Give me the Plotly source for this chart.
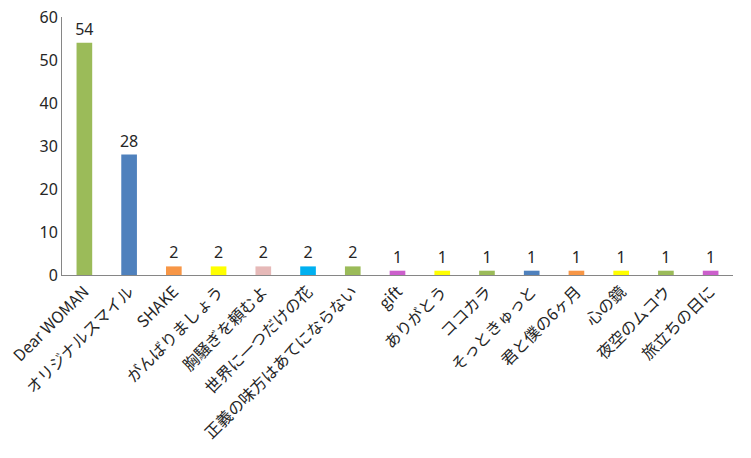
import plotly.graph_objects as go

# Dados
musicas = ['Dear WOMAN', 'オリジナルスマイル', 'SHAKE', 'がんばりましょう', '胸騒ぎを頼むよ',
           '世界に一つだけの花', '正義の味方はあてにならない', 'gift', 'ありがとう', 'ココカラ',
           'そっときゅっと', '君と僕の6ヶ月', '心の鏡', '夜空のムコウ', '旅立ちの日に']
votos = [54, 28, 2, 2, 2, 2, 2, 1, 1, 1, 1, 1, 1, 1, 1]

cores = ['#9BBB59', '#4F81BD', '#F79646', '#FFFF00', '#E6B9B8', '#00B0F0', '#9BBB59',
         '#CC5FCC', '#FFFF00', '#9BBB59', '#4F81BD', '#F79646', '#FFFF00', '#9BBB59', '#CC5FCC']

fig = go.Figure()

fig.add_trace(go.Bar(
    x=musicas,
    y=votos,
    marker=dict(color=cores, line=dict(width=0)),
    text=votos,
    textposition='outside',
    constraintext='none',
    cliponaxis=False,
    textfont=dict(size=16, color='#262626', family='Noto Sans, Noto Sans CJK JP'),
    width=0.35,
))

fig.update_layout(
    width=751,
    height=458,
    margin=dict(l=62, r=18, t=17, b=183),
    plot_bgcolor='white',
    paper_bgcolor='white',
    showlegend=False,
    font=dict(family='Noto Sans CJK JP, Noto Sans', color='#262626'),
    xaxis=dict(
        tickangle=-45,
        tickfont=dict(size=16),
        showline=True,
        linecolor='#868686',
        linewidth=1,
        showgrid=False,
        ticks='',
        automargin=False,
    ),
    yaxis=dict(
        range=[0, 60],
        dtick=10,
        tickfont=dict(size=16, family='Noto Sans'),
        showline=True,
        linecolor='#868686',
        linewidth=1,
        showgrid=False,
        zeroline=False,
        ticks='',
        automargin=False,
    ),
)

# tira a margem padrão do body para o gráfico ficar no canto da janela
fig.write_html("out.html", config={'displayModeBar': False},
               post_script="document.body.style.margin='0';")
